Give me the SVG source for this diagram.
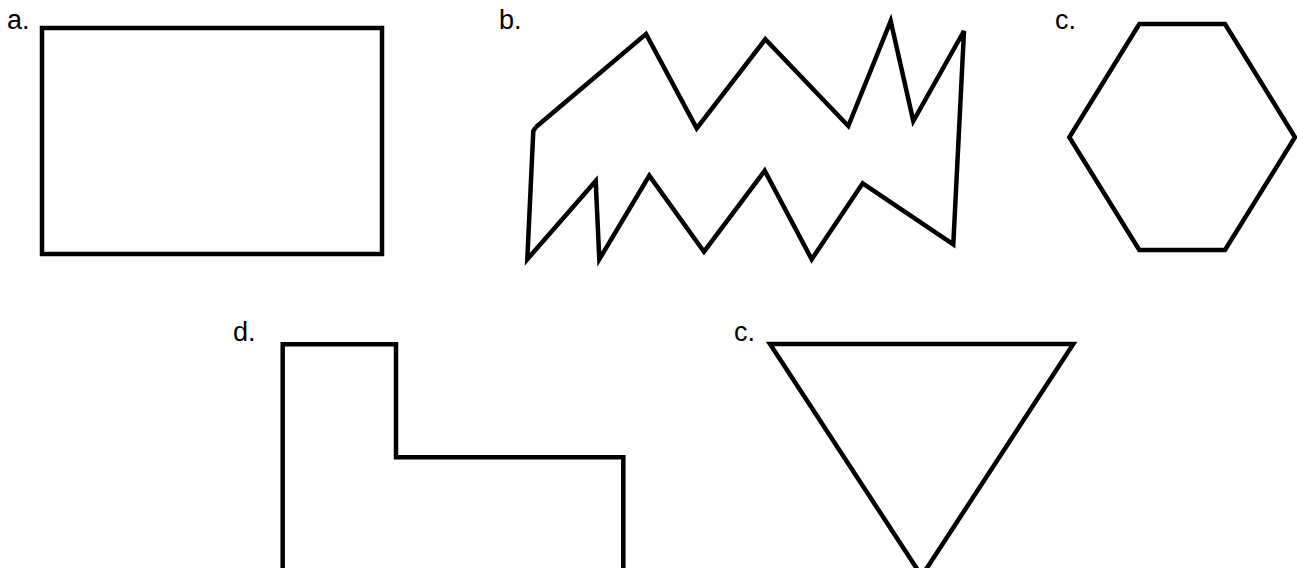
<svg xmlns="http://www.w3.org/2000/svg" width="1297" height="568" viewBox="0 0 1297 568">
<style>
.s{fill:none;stroke:#000;stroke-width:4.5;stroke-linejoin:miter}
.l{font-family:"Liberation Sans",Arial,sans-serif;font-size:27px;fill:#000}
</style>
<rect width="1297" height="568" fill="#fff"/>
<g id="shape-a">
<rect class="s" x="42" y="28" width="340" height="226"/>
<text class="l" x="7" y="29">a.</text>
</g>
<g id="shape-b">
<path class="s" d="M536,127 L646,34 L696.7,128.3 L765.3,39.3 L848.3,126 L890.7,21 L913.3,121 L964,31 L953.3,244.3 L862.7,183.3 L811.7,259.3 L764.7,170.7 L704,251.7 L649.3,175.7 L599.3,259.3 L595.7,181 L527.3,259.3 L533.3,131 L536,127"/>
<text class="l" x="499" y="29">b.</text>
</g>
<g id="shape-c1">
<polygon class="s" points="1139.3,24 1225,24 1295,137.3 1225,250 1139.3,250 1069.3,137.3"/>
<text class="l" x="1055" y="29">c.</text>
</g>
<g id="shape-d">
<path class="s" d="M282.7,580 L282.7,344.3 L396,344.3 L396,457.3 L623.3,457.3 L623.3,580"/>
<text class="l" x="233" y="341">d.</text>
</g>
<g id="shape-c2">
<polygon class="s" points="770,344 1073.3,344 921.7,576"/>
<text class="l" x="734" y="341">c.</text>
</g>
<g id="connectors"></g>
</svg>
